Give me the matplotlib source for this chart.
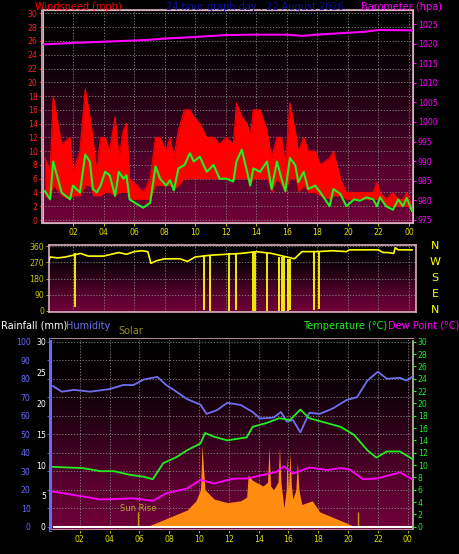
import numpy as np
import matplotlib
matplotlib.use("Agg")
import matplotlib.pyplot as plt
from matplotlib.colors import LinearSegmentedColormap

# ---------------- data ----------------
t_w = [0.16,0.5,0.7,1.25,1.8,2.0,2.45,2.8,3.1,3.3,3.55,3.8,4.1,4.4,4.75,5.0,5.3,5.5,5.7,6.2,6.6,7.05,7.4,7.7,
       8.1,8.35,8.6,8.9,9.3,9.65,9.9,10.3,10.75,11.2,11.6,12.05,12.5,12.7,13.05,13.4,13.6,13.8,14.25,14.7,15.0,
       15.35,15.65,15.9,16.2,16.55,16.75,17.1,17.4,17.85,18.2,18.8,19.05,19.5,19.9,20.4,20.8,21.2,21.65,21.9,
       22.1,22.5,22.95,23.3,23.6,23.85,24.2]
wind_avg = [4.2,3,8.5,4,3,5,4,9.5,8.5,4.5,4,5,7,6.5,3.5,7,6,6.5,3,2.3,1.8,2.5,7.8,6,
            5,5.8,4.3,7.5,8,9.7,8.5,9.2,7,8,6,6,5.6,8.5,10.2,7,5,7.5,7,8.5,4.5,
            8.5,6,4.2,9,8,5.5,7,4.5,5,4,2,4.5,3.8,2,3,2.8,3.3,3,2,
            3.3,2,1.5,3,2,3.2,1.3]
wind_gust = [9,7,18,11,12,7,10,19,15,12,7,12,12,10,15,9,13,14,6,5,4,6,12,12,
             10,12,9,13,16,16,15,14,12,12,11,12,11,17,15,14,12,16,16,13,9,
             12,12,8,17,13,10,12,10,10,8,9,10,6,4,4,4,4,4,5.5,
             4,3,4,3,3,4,2]
wind_lull = [3.5,3,5,3.5,3,3.5,3.5,5,5,3.5,3.5,3.5,4,4,3.5,4,4,4,3,3,3,3,5,5,
             5,5,4.5,5,6,6,6,6,6,6,6,6,6,6,6,6,5,6,6,6,4,
             6,5,4,6,6,4,5,4,4,3.5,3,3.5,3.5,3,3,3,3,3,3,
             3,2,2,2,2,2,1.5]

t_baro = [0,2,4,6,7,8,10,12,14,16,17,18,20,21,22,24.2]
baro = [1019.8,1020.2,1020.5,1020.8,1021,1021.3,1021.7,1022.2,1022.3,1022.3,1022,1022.3,1022.8,1023,1023.5,1023.4]

t_dir = [0.2,0.3,0.5,1,1.5,2,2.5,3,4,5,5.5,6,6.5,6.9,7.1,7.5,8,9,9.5,10,11,12,13,14,15,16,16.5,17,18,19,
         19.9,20.1,21,22,22.3,22.6,23,23.1,23.3,24.2]
wind_dir = [290,240,300,295,300,310,320,305,305,325,315,330,335,330,265,280,290,290,275,300,310,315,320,330,
            320,300,290,330,330,335,330,340,340,340,325,325,320,352,340,340]
t_dir_spike = [2.1,10.6,11.0,12.2,12.7,13.8,13.9,14.7,15.5,15.7,15.8,16.1,16.2,17.8,18.1]
dir_spike_low = [20,5,0,0,5,0,0,0,0,0,0,0,5,5,10]

t_hum = [0.2,0.8,1.6,2.7,4.0,4.9,5.6,6.3,7.2,7.8,8.3,9.2,10.1,10.5,11.2,11.9,12.8,13.6,14.1,15.0,15.5,15.9,
         16.3,16.8,17.4,18.1,19.0,19.9,20.6,21.3,22.0,22.6,23.5,23.9,24.3]
humidity = [76,73,74,73,74.4,76.6,76.6,79.6,81,76.6,74,69,66,61,63,67,65.8,62,58.5,59,62,56.8,
            57.7,51,61.6,61,64,68.5,70,79,83.8,80,80.5,79,81]

t_temp = [0.2,2.2,3.4,4.3,5.4,6.3,6.9,7.6,8.5,9.2,10.1,10.4,11.0,11.9,13.2,13.6,14.5,15.4,16.1,16.8,17.4,
          18.6,19.5,20.4,21.3,21.9,22.6,23.5,24.3]
temperature = [9.7,9.5,9,9,8.4,8.1,7.7,10.3,11.3,12.4,13.5,15.2,14.6,14,14.5,16.2,16.8,17.6,17.3,19,17.6,
               16.8,16.2,14.9,12.4,11.2,12.2,12.2,11]

t_dew = [0.2,2.2,3.4,5.6,6.9,7.8,9.2,10.1,11.0,12.3,13.2,14.3,15.2,15.7,16.3,17.4,18.6,19.5,20.1,21.0,21.9,23.5,24.3]
dewpoint = [5.7,4.9,4.4,4.6,4.2,5.4,6.2,7.6,7,7.8,7.8,8.4,8.9,9.8,8.6,9.6,9.2,9.5,9.3,7.7,7.8,8.8,7.7]

t_sol = [6.5,7.4,8.3,9.2,9.8,10.1,10.2,10.4,11.0,11.9,12.8,13.2,13.3,13.6,14.3,14.6,14.7,14.8,15.0,15.3,15.4,15.5,
         15.7,15.85,15.9,16.0,16.1,16.2,16.3,16.5,16.6,16.7,16.9,17.6,18.1,19.0,19.9,20.4]
solar = [0,3,6,9,14,20,44,20,15,13,14,16,28,25,22,24,43,22,20,24,43,24,10,20,38,20,40,22,15,20,35,20,12,14,8,5,2,0]

sunrise, sunset = 5.9, 20.65
hours = [2,4,6,8,10,12,14,16,18,20,22,24]
hour_labels = ["02","04","06","08","10","12","14","16","18","20","22","00"]

# ---------------- style ----------------
W, H = 460, 554
fig = plt.figure(figsize=(W/100, H/100), dpi=100, facecolor="black")
cmap = LinearSegmentedColormap.from_list("bg", ["#000000", "#0c0006", "#30001a", "#58002e", "#700039"])
fs = 5.6

def bg(ax):
    grad = np.linspace(0, 1, 256).reshape(-1, 1)
    ax.imshow(grad, aspect="auto", cmap=cmap, extent=(0, 1, 0, 1), transform=ax.transAxes, zorder=0)
    ax.set_facecolor("black")
    for s in ax.spines.values():
        s.set_color("#d8b0c0")
        s.set_linewidth(1.2)
    ax.grid(True, color="#8a8a8a", linestyle=(0, (1.5, 2)), linewidth=0.6, zorder=1)
    ax.tick_params(length=2, width=0.6, labelsize=fs, pad=1.5)

# ---------- top panel ----------
ax1 = fig.add_axes([42.5/W, 1-223/H, 370.5/W, 213/H])
bg(ax1)
ax1.set_xlim(0, 24.26)
ax1.set_ylim(-0.43, 30.5)
ax1.fill_between(t_w, wind_lull, wind_gust, color="#ff0000", lw=0, zorder=2)
ax1.plot(t_w, wind_gust, color="#ff0000", lw=0.8, zorder=2)
ax1.plot(t_w, wind_avg, color="#22ee22", lw=1.5, zorder=3)
ax1.set_yticks(range(0, 31, 2))
ax1.set_xticks(hours)
ax1.set_xticklabels(hour_labels)
ax1.tick_params(axis="x", colors="#e0e000")
ax1.tick_params(axis="y", colors="#ff2020")
ax1b = ax1.twinx()
ax1b.set_ylim(974.2, 1028.6)
ax1b.plot(t_baro, baro, color="#ff00ff", lw=1.5, zorder=3)
ax1b.set_yticks(range(975, 1026, 5))
ax1b.tick_params(axis="y", colors="#ff00ff", labelsize=fs, length=2, pad=1.5)
for s in ax1b.spines.values():
    s.set_color("#d8b0c0")
fig.text(35/W, 1-7/H, "Windspeed (mph)", color="#ff0000", fontsize=7, va="center")
fig.text(255/W, 1-7/H, "24 hour graph day : 22 August 2026", color="#1010a0", fontsize=7, va="center", ha="center")
fig.text(442/W, 1-7/H, "Barometer (hpa)", color="#ff00ff", fontsize=7, va="center", ha="right")

# ---------- wind direction panel ----------
ax2 = fig.add_axes([49/W, 1-312/H, 367/W, 67/H])
bg(ax2)
ax2.set_xlim(0.43, 24.46)
ax2.set_ylim(-7, 367)
ax2.plot(t_dir, wind_dir, color="#ffff00", lw=1.2, zorder=3)
ax2.vlines(t_dir_spike, dir_spike_low, [wind_dir[np.searchsorted(t_dir, x)] for x in t_dir_spike],
           color="#ffff00", lw=1.3, zorder=3)
ax2.set_yticks([0, 90, 180, 270, 360])
ax2.set_xticks(hours)
ax2.tick_params(axis="x", labelbottom=False)
ax2.tick_params(axis="y", colors="#c8c800")
for i, c in enumerate(["N", "W", "S", "E", "N"]):
    fig.text(435/W, 1-(246+i*16)/H, c, color="#ffff00", fontsize=8, ha="center", va="center")

# ---------- bottom panel ----------
ax3 = fig.add_axes([50/W, 1-530/H, 363/W, 191/H])
bg(ax3)
ax3.set_xlim(0, 24.36)
ax3.set_ylim(-1.8, 101.5)
ax3.fill_between(t_sol, 0, solar, color="#ff8c10", lw=0, zorder=2)
ax3.vlines([sunrise, sunset], 0, 8, color="#c0a000", lw=1, zorder=2)
ax3.text(sunrise, 10, "Sun Rise", color="#c0a030", fontsize=6, ha="center", va="center", zorder=4)
ax3.hlines(0, 0.2, 24.3, color="white", lw=1.5, zorder=4)
ax3.plot(t_hum, humidity, color="#7070ee", lw=1.3, zorder=3)
ax3.set_yticks(range(0, 101, 10))
ax3.set_xticks(hours)
ax3.set_xticklabels(hour_labels)
ax3.tick_params(axis="x", colors="#e0e000")
ax3.tick_params(axis="y", colors="#6a6aff", pad=12)
ax3.spines["left"].set_color("#6a6aff")
ax3.spines["left"].set_linewidth(2)

ax3r = ax3.twinx()
ax3r.set_ylim(-0.54, 30.45)
ax3r.plot(t_temp, temperature, color="#22ee22", lw=1.3, zorder=3)
ax3r.plot(t_dew, dewpoint, color="#ff00ff", lw=1.3, zorder=3)
ax3r.set_yticks(range(0, 31, 2))
ax3r.tick_params(axis="y", colors="#22ee22", labelsize=fs, length=2, pad=1.5)
for s in ax3r.spines.values():
    s.set_color("#d8b0c0")
ax3r.spines["right"].set_color("#22ee22")
ax3r.spines["left"].set_color("#6a6aff")
ax3r.spines["left"].set_linewidth(2)

ax3l = ax3.twinx()
ax3l.set_ylim(-0.54, 30.45)
ax3l.yaxis.set_ticks_position("left")
ax3l.spines["left"].set_visible(False)
ax3l.spines["right"].set_visible(False)
ax3l.set_yticks(range(0, 31, 5))
ax3l.tick_params(axis="y", colors="white", labelsize=fs, length=0, pad=3)

fig.text(1/W, 1-326/H, "Rainfall (mm)", color="white", fontsize=7, va="center")
fig.text(66/W, 1-326/H, "Humidity", color="#7070ee", fontsize=7, va="center")
fig.text(118/W, 1-331/H, "Solar", color="#a08a10", fontsize=7, va="center")
fig.text(387/W, 1-326/H, "Temperature (°C)", color="#22ee22", fontsize=7, va="center", ha="right")
fig.text(459/W, 1-326/H, "Dew Point (°C)", color="#ff00ff", fontsize=7, va="center", ha="right")

fig.savefig("out.png", dpi=100, facecolor="black")
